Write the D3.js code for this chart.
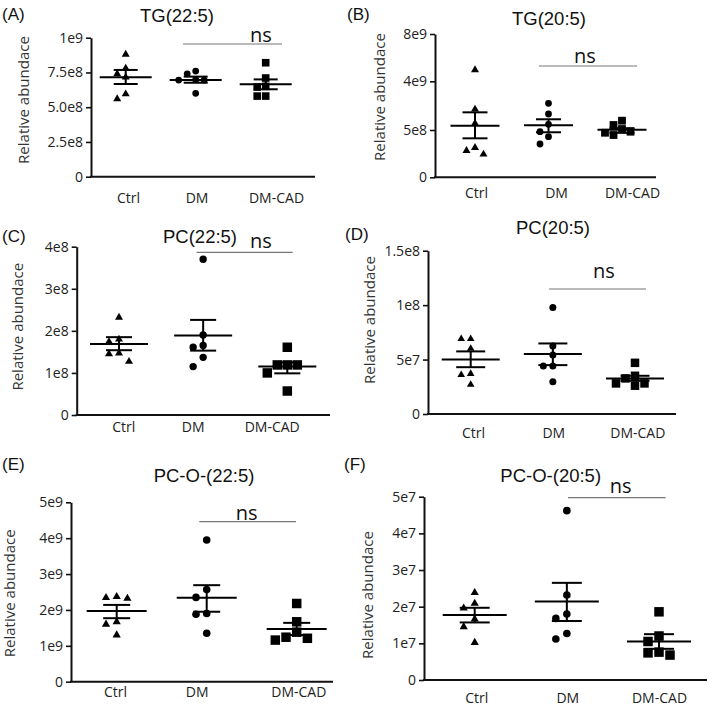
<!DOCTYPE html>
<html><head><meta charset="utf-8">
<script src="https://cdn.jsdelivr.net/npm/d3@7"></script>
<style>body{margin:0;background:#fff}</style>
</head><body>
<svg id="chart" width="709" height="706"></svg>
<script>
// ---------------- DATA ----------------
const categories = ["Ctrl", "DM", "DM-CAD"];
const titles = ["TG(22:5)", "TG(20:5)", "PC(22:5)", "PC(20:5)", "PC-O-(22:5)", "PC-O-(20:5)"];
const panelTags = ["(A)", "(B)", "(C)", "(D)", "(E)", "(F)"];
const yAxisTitle = "Relative abundace";
const sigLabel = "ns";

// (A) TG(22:5)
const tg225Ticks = [0, 2.5e8, 5e8, 7.5e8, 1e9];
const tg225TickLabels = ["0", "2.5e8", "5.0e8", "7.5e8", "1e9"];
const tg225Ctrl = [8.8e8, 7.8e8, 7.4e8, 7.15e8, 5.95e8, 5.6e8];
const tg225DM = [7.6e8, 7.4e8, 6.98e8, 6.95e8, 6.95e8, 6.0e8];
const tg225CAD = [8.2e8, 7.1e8, 6.5e8, 6.45e8, 5.8e8, 5.8e8];
const tg225Mean = [7.15e8, 6.96e8, 6.65e8];
const tg225Err = [[6.67e8, 7.68e8], [6.76e8, 7.2e8], [6.29e8, 7.0e8]];

// (B) TG(20:5)  (segmented axis)
const tg205Ticks = [0, 5e8, 4e9, 8e9];
const tg205TickLabels = ["0", "5e8", "4e9", "8e9"];
const tg205Ctrl = [4.96e9, 1.99e9, 9.8e8, 3.13e8, 2.81e8, 2.43e8];
const tg205DM = [2.42e9, 1.65e9, 9.1e8, 4.82e8, 4.29e8, 3.52e8];
const tg205CAD = [1.17e9, 8.6e8, 5.7e8, 4.82e8, 4.71e8, 4.47e8];
const tg205Mean = [8.1e8, 8.5e8, 5.1e8];
const tg205Err = [[4.12e8, 1.77e9], [4.76e8, 1.27e9], [4.7e8, 6.3e8]];

// (C) PC(22:5)
const pc225Ticks = [0, 1e8, 2e8, 3e8, 4e8];
const pc225TickLabels = ["0", "1e8", "2e8", "3e8", "4e8"];
const pc225Ctrl = [2.32e8, 1.80e8, 1.74e8, 1.47e8, 1.45e8, 1.27e8];
const pc225DM = [3.70e8, 1.90e8, 1.65e8, 1.61e8, 1.37e8, 1.15e8];
const pc225CAD = [1.61e8, 1.19e8, 1.19e8, 1.19e8, 1.0e8, 0.57e8];
const pc225Mean = [1.69e8, 1.89e8, 1.15e8];
const pc225Err = [[1.54e8, 1.85e8], [1.53e8, 2.26e8], [0.99e8, 1.25e8]];

// (D) PC(20:5)
const pc205Ticks = [0, 5e7, 1e8, 1.5e8];
const pc205TickLabels = ["0", "5e7", "1e8", "1.5e8"];
const pc205Ctrl = [6.9e7, 6.9e7, 6.0e7, 3.7e7, 3.6e7, 2.7e7];
const pc205DM = [9.78e7, 6.24e7, 5.41e7, 4.4e7, 4.4e7, 2.96e7];
const pc205CAD = [4.7e7, 3.51e7, 3.27e7, 2.81e7, 2.81e7, 2.6e7];
const pc205Mean = [5.0e7, 5.5e7, 3.27e7];
const pc205Err = [[4.3e7, 5.75e7], [4.49e7, 6.48e7], [3.05e7, 3.51e7]];

// (E) PC-O-(22:5)
const pco225Ticks = [0, 1e9, 2e9, 3e9, 4e9, 5e9];
const pco225TickLabels = ["0", "1e9", "2e9", "3e9", "4e9", "5e9"];
const pco225Ctrl = [2.37e9, 2.34e9, 2.32e9, 1.67e9, 1.60e9, 1.30e9];
const pco225DM = [3.95e9, 2.57e9, 2.35e9, 1.90e9, 1.88e9, 1.35e9];
const pco225CAD = [2.18e9, 1.67e9, 1.38e9, 1.24e9, 1.21e9, 1.16e9];
const pco225Mean = [1.97e9, 2.34e9, 1.47e9];
const pco225Err = [[1.77e9, 2.14e9], [1.95e9, 2.69e9], [1.30e9, 1.64e9]];

// (F) PC-O-(20:5)
const pco205Ticks = [0, 1e7, 2e7, 3e7, 4e7, 5e7];
const pco205TickLabels = ["0", "1e7", "2e7", "3e7", "4e7", "5e7"];
const pco205Ctrl = [2.38e7, 2.09e7, 1.96e7, 1.66e7, 1.45e7, 1.02e7];
const pco205DM = [4.62e7, 2.32e7, 1.80e7, 1.68e7, 1.27e7, 1.12e7];
const pco205CAD = [1.86e7, 1.20e7, 1.05e7, 0.76e7, 0.74e7, 0.68e7];
const pco205Mean = [1.77e7, 2.14e7, 1.05e7];
const pco205Err = [[1.57e7, 1.97e7], [1.61e7, 2.65e7], [0.85e7, 1.25e7]];

// ---------------- LAYOUT ----------------
const panels = [
  { ticks: tg225Ticks, tickLabels: tg225TickLabels, groups: [tg225Ctrl, tg225DM, tg225CAD], mean: tg225Mean, err: tg225Err,
    tagX: 2, tagY: 19.5, titleX: 177, titleY: 21.7, axisX: 91, y0: 176.7, yTop: 37.7, xEnd: 315,
    xFirst: 125.7, xLast: 265.7, labelX: [128, 196.5, 276], labelY: 203,
    ns: [183, 282, 44], nsText: [261, 41.7], ylab: [24, 100], meanHalf: 26, semHalf: 12, mk: [8, 3.4, 7.6], gap: 8.5 },
  { ticks: tg205Ticks, tickLabels: tg205TickLabels, groups: [tg205Ctrl, tg205DM, tg205CAD], mean: tg205Mean, err: tg205Err,
    yRange: [177.3, 130, 81.3, 34],
    tagX: 347, tagY: 19.5, titleX: 549, titleY: 24.5, axisX: 435, y0: 177.3, yTop: 34, xEnd: 656,
    xFirst: 475, xLast: 622, labelX: [476, 556, 632], labelY: 198,
    ns: [539, 637, 66], nsText: [585, 63], ylab: [379.5, 97], meanHalf: 24.5, semHalf: 12.5, mk: [8, 3.4, 7.8], gap: 8.5 },
  { ticks: pc225Ticks, tickLabels: pc225TickLabels, groups: [pc225Ctrl, pc225DM, pc225CAD], mean: pc225Mean, err: pc225Err,
    tagX: 2, tagY: 242, titleX: 200, titleY: 243, axisX: 76.7, y0: 415, yTop: 246.7, xEnd: 330,
    xFirst: 119, xLast: 287.3, labelX: [123.3, 192.7, 271.7], labelY: 432,
    ns: [196.7, 292.7, 252.3], nsText: [261, 248], ylab: [17.5, 326.7], meanHalf: 29, semHalf: 13, mk: [8, 3.7, 9.5], gap: 10 },
  { ticks: pc205Ticks, tickLabels: pc205TickLabels, groups: [pc205Ctrl, pc205DM, pc205CAD], mean: pc205Mean, err: pc205Err,
    tagX: 345, tagY: 240, titleX: 553, titleY: 234, axisX: 428, y0: 414, yTop: 250.7, xEnd: 676,
    xFirst: 470.7, xLast: 635, labelX: [473, 553.3, 637.3], labelY: 438,
    ns: [549, 646, 289], nsText: [604, 278], ylab: [369.5, 320], meanHalf: 29, semHalf: 14.5, mk: [7.6, 3.5, 8.5], gap: 9.5 },
  { ticks: pco225Ticks, tickLabels: pco225TickLabels, groups: [pco225Ctrl, pco225DM, pco225CAD], mean: pco225Mean, err: pco225Err,
    tagX: 2, tagY: 470, titleX: 204, titleY: 481.7, axisX: 71, y0: 681.7, yTop: 502.3, xEnd: 333,
    xFirst: 116.7, xLast: 296.7, labelX: [115, 196.7, 298.3], labelY: 697,
    ns: [199.3, 296, 521.7], nsText: [246.7, 520], ylab: [10, 593.3], meanHalf: 30, semHalf: 13.5, mk: [8.2, 3.8, 9.5], gap: 10.7 },
  { ticks: pco205Ticks, tickLabels: pco205TickLabels, groups: [pco205Ctrl, pco205DM, pco205CAD], mean: pco205Mean, err: pco205Err,
    tagX: 344, tagY: 470, titleX: 550.7, titleY: 481.7, axisX: 424, y0: 680, yTop: 496.7, xEnd: 707,
    xFirst: 474.7, xLast: 659, labelX: [476.3, 567.3, 659], labelY: 703,
    ns: [568, 665.7, 497.7], nsText: [620.7, 493], ylab: [367.3, 595], meanHalf: 32, semHalf: 15, mk: [8.2, 3.8, 9.5], gap: 11 }
];

const svg = d3.select("#chart");
const FONT = "'Open Sans', 'DejaVu Sans', sans-serif";
const TFONT = "'Liberation Sans', Arial, sans-serif";
const shapes = [d3.symbolTriangle, d3.symbolCircle, d3.symbolSquare];

panels.forEach((p, pi) => {
  const g = svg.append("g");
  const y = d3.scaleLinear()
    .domain(p.yRange ? p.ticks : [0, d3.max(p.ticks)])
    .range(p.yRange ? p.yRange : [p.y0, p.yTop]);
  const x = d3.scalePoint().domain(categories).range([p.xFirst, p.xLast]);
  const xl = d3.scaleOrdinal().domain(categories).range(p.labelX);

  // panel tag & title
  g.append("text").attr("x", p.tagX).attr("y", p.tagY).text(panelTags[pi])
    .attr("font-family", TFONT).attr("font-size", 17).attr("fill", "#111");
  g.append("text").attr("x", p.titleX).attr("y", p.titleY).text(titles[pi])
    .attr("text-anchor", "middle").attr("font-family", TFONT).attr("font-size", 18.5).attr("fill", "#111");

  // y axis
  const ya = g.append("g").attr("transform", `translate(${p.axisX},0)`)
    .call(d3.axisLeft(y).tickValues(p.ticks).tickFormat((d, i) => p.tickLabels[i]).tickSize(5).tickSizeOuter(0).tickPadding(3));
  ya.select(".domain").attr("stroke", "#111").attr("stroke-width", 2);
  ya.selectAll(".tick line").attr("stroke", "#111").attr("stroke-width", 1.6);
  ya.selectAll(".tick text").attr("font-family", FONT).attr("font-size", 14).attr("fill", "#222");

  // x axis line
  g.append("line").attr("x1", p.axisX - 1).attr("x2", p.xEnd).attr("y1", y(0)).attr("y2", y(0))
    .attr("stroke", "#111").attr("stroke-width", 2);

  // category labels
  const xa = g.append("g").attr("transform", `translate(0,${p.labelY})`)
    .call(d3.axisBottom(xl).tickSize(0).tickPadding(0));
  xa.select(".domain").remove();
  xa.selectAll(".tick text").attr("dy", 0).attr("y", 0).attr("font-family", FONT).attr("font-size", 14).attr("fill", "#222");

  // y axis title
  g.append("text").attr("transform", `translate(${p.ylab[0]},${p.ylab[1]}) rotate(-90)`)
    .attr("text-anchor", "middle").attr("dy", "0.35em").text(yAxisTitle)
    .attr("font-family", FONT).attr("font-size", 15).attr("fill", "#333");

  // significance
  g.append("line").attr("x1", p.ns[0]).attr("x2", p.ns[1]).attr("y1", p.ns[2]).attr("y2", p.ns[2])
    .attr("stroke", "#777").attr("stroke-width", 1.2);
  g.append("text").attr("x", p.nsText[0]).attr("y", p.nsText[1]).attr("text-anchor", "middle")
    .text(sigLabel).attr("font-family", FONT).attr("font-size", 20).attr("fill", "#111");

  // mean & SEM
  categories.forEach((c, ci) => {
    const cx = x(c);
    g.append("line").attr("x1", cx - p.meanHalf).attr("x2", cx + p.meanHalf)
      .attr("y1", y(p.mean[ci])).attr("y2", y(p.mean[ci])).attr("stroke", "#000").attr("stroke-width", 2);
    const [lo, hi] = p.err[ci];
    g.append("line").attr("x1", cx).attr("x2", cx).attr("y1", y(lo)).attr("y2", y(hi))
      .attr("stroke", "#000").attr("stroke-width", 2);
    [lo, hi].forEach(v => g.append("line").attr("x1", cx - p.semHalf).attr("x2", cx + p.semHalf)
      .attr("y1", y(v)).attr("y2", y(v)).attr("stroke", "#000").attr("stroke-width", 2));
  });

  // points with simple swarm layout
  categories.forEach((c, ci) => {
    const cx = x(c);
    const pts = p.groups[ci].map(v => ({ v, py: y(v) })).sort((a, b) => a.py - b.py);
    const placed = [];
    const d = p.gap;
    pts.forEach(pt => {
      const cands = [0, -1, 1, -2, 2, -3, 3];
      for (const k of cands) {
        const px = cx + k * d;
        if (placed.every(q => Math.hypot(q.px - px, q.py - pt.py) >= d * 0.95)) { pt.px = px; break; }
      }
      if (pt.px === undefined) pt.px = cx;
      placed.push(pt);
    });
    const size = ci === 0 ? Math.sqrt(3) / 4 * p.mk[0] * p.mk[0] * 1.0
               : ci === 1 ? Math.PI * p.mk[1] * p.mk[1]
               : p.mk[2] * p.mk[2];
    g.selectAll(null).data(placed).join("path")
      .attr("transform", q => `translate(${q.px},${q.py})`)
      .attr("d", d3.symbol().type(shapes[ci]).size(size))
      .attr("fill", "#000");
  });
});
</script>
</body></html>
